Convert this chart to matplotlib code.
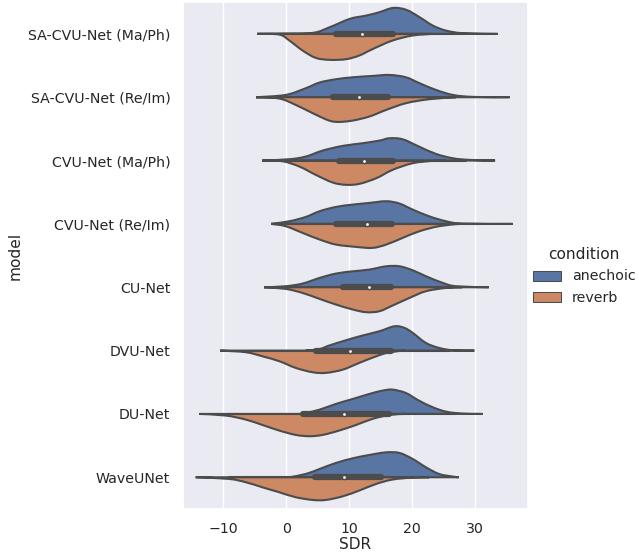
import colorsys

import matplotlib
matplotlib.use("Agg")
import matplotlib.pyplot as plt
import numpy as np
import seaborn as sns
from matplotlib.patches import PathPatch, Rectangle
from matplotlib.path import Path

models = ["SA-CVU-Net (Ma/Ph)", "SA-CVU-Net (Re/Im)", "CVU-Net (Ma/Ph)", "CVU-Net (Re/Im)",
          "CU-Net", "DVU-Net", "DU-Net", "WaveUNet"]
conditions = ["anechoic", "reverb"]

# violin outlines: SDR positions and half widths (category units)
anechoic_sdr = [
    [-4.6, -1.1, 4.2, 6.9, 10.1, 12.7, 14.8, 17.0, 19.1, 21.2, 23.3, 25.4, 28.1, 33.6],
    [-4.8, -0.1, 3.1, 5.3, 7.9, 10.6, 13.7, 16.4, 19.0, 21.2, 23.8, 26.5, 29.7, 35.5],
    [-3.8, 0.5, 3.1, 5.8, 9.0, 12.1, 14.8, 16.4, 18.5, 21.1, 23.8, 26.5, 29.1, 33.2],
    [-2.4, 0.5, 3.1, 5.3, 7.9, 10.6, 13.2, 15.9, 18.0, 20.1, 22.7, 25.4, 28.0, 36.0],
    [-3.5, -0.1, 2.6, 5.3, 7.9, 10.6, 13.2, 15.9, 18.0, 20.1, 22.2, 24.9, 27.0, 32.2],
    [3.1, 5.3, 6.8, 9.5, 12.1, 14.8, 17.2, 18.8, 20.1, 22.2, 24.3, 26.5, 29.9],
    [2.6, 5.3, 7.9, 10.6, 13.2, 15.3, 16.9, 19.0, 21.1, 23.3, 25.4, 28.0, 31.2],
    [0.5, 3.1, 5.3, 7.9, 10.6, 13.2, 15.9, 18.0, 20.1, 22.2, 24.3, 26.5, 27.4],
]
anechoic_width = [
    [0, 0.003, 0.016, 0.105, 0.237, 0.289, 0.342, 0.41, 0.379, 0.263, 0.131, 0.052, 0.011, 0],
    [0, 0.036, 0.142, 0.232, 0.284, 0.315, 0.336, 0.352, 0.315, 0.221, 0.115, 0.036, 0.005, 0],
    [0, 0.021, 0.063, 0.158, 0.232, 0.273, 0.315, 0.352, 0.336, 0.221, 0.105, 0.036, 0.011, 0],
    [0, 0.042, 0.11, 0.2, 0.268, 0.305, 0.331, 0.358, 0.321, 0.226, 0.121, 0.042, 0.005, 0],
    [0, 0.016, 0.058, 0.147, 0.216, 0.252, 0.279, 0.331, 0.331, 0.268, 0.174, 0.068, 0.016, 0],
    [0, 0.024, 0.079, 0.163, 0.237, 0.305, 0.384, 0.358, 0.28, 0.121, 0.042, 0.005, 0],
    [0, 0.068, 0.158, 0.237, 0.315, 0.368, 0.384, 0.331, 0.21, 0.105, 0.036, 0.005, 0],
    [0, 0.052, 0.131, 0.226, 0.3, 0.352, 0.394, 0.384, 0.289, 0.158, 0.052, 0.011, 0],
]
reverb_sdr = [
    [-4.6, -1.1, 0.5, 2.6, 4.7, 6.9, 9.5, 11.6, 13.8, 16.9, 20.1, 23.3],
    [-4.8, -1.1, 1.5, 4.2, 6.8, 8.4, 10.6, 13.2, 15.9, 19.0, 22.7, 27.0],
    [-3.8, -0.6, 2.1, 4.7, 7.4, 9.5, 11.6, 14.3, 16.9, 20.1, 23.3, 25.4],
    [-2.4, -0.1, 2.6, 5.3, 7.9, 11.1, 13.7, 15.9, 18.5, 21.2, 24.3, 27.5],
    [-3.5, -0.1, 2.6, 5.3, 7.9, 10.6, 12.7, 14.8, 16.9, 19.6, 22.2, 25.4, 28.0],
    [-10.5, -6.4, -3.8, -1.1, 1.5, 4.2, 6.3, 9.0, 11.6, 14.3, 16.4, 19.0],
    [-13.8, -9.6, -6.4, -3.8, -1.1, 1.5, 3.7, 5.8, 8.4, 11.1, 13.7, 16.4, 19.0],
    [-14.4, -9.1, -6.4, -3.8, -1.1, 1.5, 4.2, 6.3, 9.0, 11.6, 14.3, 16.9, 20.1, 22.7],
]
reverb_width = [
    [0, 0.011, 0.105, 0.263, 0.379, 0.41, 0.4, 0.342, 0.237, 0.105, 0.026, 0],
    [0, 0.021, 0.121, 0.252, 0.368, 0.39, 0.368, 0.305, 0.2, 0.095, 0.032, 0],
    [0, 0.011, 0.095, 0.226, 0.347, 0.383, 0.368, 0.279, 0.147, 0.042, 0.005, 0],
    [0, 0.036, 0.142, 0.247, 0.326, 0.363, 0.379, 0.326, 0.221, 0.115, 0.036, 0],
    [0, 0.026, 0.09, 0.184, 0.273, 0.352, 0.394, 0.379, 0.289, 0.168, 0.063, 0.011, 0],
    [0, 0.026, 0.09, 0.168, 0.273, 0.342, 0.352, 0.3, 0.195, 0.09, 0.026, 0],
    [0, 0.026, 0.09, 0.174, 0.263, 0.331, 0.352, 0.331, 0.263, 0.174, 0.079, 0.016, 0],
    [0, 0.026, 0.079, 0.158, 0.237, 0.315, 0.358, 0.358, 0.3, 0.21, 0.105, 0.036, 0.005, 0],
]

# inner box (both conditions together)
q1 = [7.9, 7.4, 8.4, 7.9, 9.0, 4.7, 2.6, 4.5]
median = [12.0, 11.6, 12.3, 12.8, 13.1, 10.2, 9.2, 9.2]
q3 = [16.9, 16.1, 16.9, 16.8, 16.6, 16.6, 16.4, 15.1]
whisker_lo = [-1.0, -1.0, 0.0, 0.5, 0.0, -6.4, -9.6, -9.1]
whisker_hi = [28.0, 30.0, 28.5, 31.0, 27.5, 26.0, 27.0, 22.7]


def half_violin_path(xs, ws, center, sign):
    pts = np.column_stack([np.asarray(xs, float), center + sign * np.asarray(ws, float)])
    n = len(pts)
    verts = [pts[0]]
    codes = [Path.MOVETO]
    # smooth outline through the read points (Catmull-Rom as cubic Bezier)
    for i in range(n - 1):
        p0 = pts[max(i - 1, 0)]
        p1 = pts[i]
        p2 = pts[i + 1]
        p3 = pts[min(i + 2, n - 1)]
        verts += [p1 + (p2 - p0) / 6, p2 - (p3 - p1) / 6, p2]
        codes += [Path.CURVE4] * 3
    verts += [pts[0], pts[0]]
    codes += [Path.LINETO, Path.CLOSEPOLY]
    return Path(verts, codes)


sns.set_theme()
palette = [sns.desaturate(c, 0.75) for c in sns.color_palette("deep")[:2]]
lum = min(colorsys.rgb_to_hls(*c)[1] for c in palette) * 0.6
gray = (lum, lum, lum)
lw = 1.5

fig = plt.figure(figsize=(6.39, 5.52), dpi=100)
ax = fig.add_axes([0.286, 0.078, 0.54, 0.918])

for i in range(len(models)):
    for xs, ws, sign, color in [(anechoic_sdr[i], anechoic_width[i], -1, palette[0]),
                                (reverb_sdr[i], reverb_width[i], 1, palette[1])]:
        patch = PathPatch(half_violin_path(xs, ws, i, sign), facecolor=color,
                          edgecolor=gray, linewidth=lw, zorder=1)
        ax.add_patch(patch)
    ax.plot([whisker_lo[i], whisker_hi[i]], [i, i], color=gray, linewidth=lw, zorder=2)
    ax.plot([q1[i], q3[i]], [i, i], color=gray, linewidth=lw * 3, zorder=2)
    ax.scatter(median[i], i, s=(lw * 2) ** 2, color="white", edgecolor=gray, zorder=3)

ax.set_xlim(-16.45, 38.4)
ax.set_ylim(len(models) - 0.5, -0.5)
ax.set_xticks([-10, 0, 10, 20, 30])
ax.set_yticks(range(len(models)))
ax.set_yticklabels(models)
ax.yaxis.grid(False)
ax.tick_params(axis="both", labelsize=10.2)
ax.tick_params(axis="y", length=0, pad=9)
ax.set_xlabel("SDR", fontsize=11.1, labelpad=0.5)
ax.set_ylabel("model", fontsize=11.1)

handles = [Rectangle((0, 0), 0, 0, facecolor=c, edgecolor=gray, linewidth=lw / 2) for c in palette]
leg = fig.legend(handles, conditions, title="condition", loc="center left",
                 bbox_to_anchor=(0.8135, 0.5), frameon=False, fontsize=10.2,
                 title_fontsize=11.1)

fig.savefig("out.png", dpi=100)
